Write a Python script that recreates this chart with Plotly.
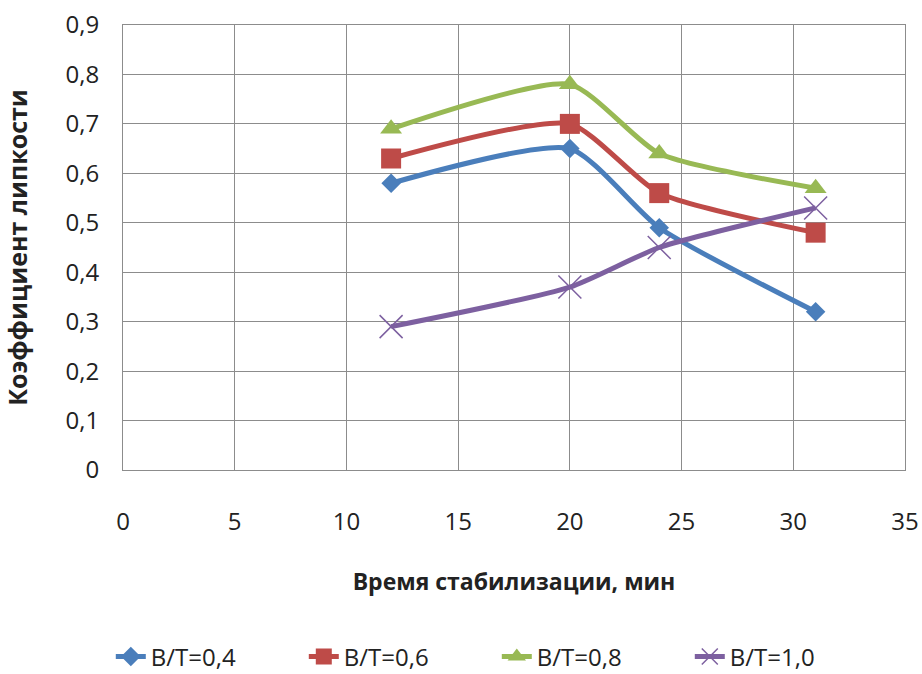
import plotly.graph_objects as go

x_vals = [12, 20, 24, 31]
s04 = [0.58, 0.65, 0.49, 0.32]
s06 = [0.63, 0.70, 0.56, 0.48]
s08 = [0.69, 0.78, 0.64, 0.57]
s10 = [0.29, 0.37, 0.45, 0.53]
names = ["B/T=0,4", "B/T=0,6", "B/T=0,8", "B/T=1,0"]
colors = ["#4A7EBB", "#BE4B48", "#98B954", "#7D60A0"]
symbols = ["diamond", "square", "triangle-up", "x-thin-open"]
sizes = [15, 20, 19, 23]
x_ticks = [0, 5, 10, 15, 20, 25, 30, 35]
y_ticks = [0, 0.1, 0.2, 0.3, 0.4, 0.5, 0.6, 0.7, 0.8, 0.9]
y_labels = ["0", "0,1", "0,2", "0,3", "0,4", "0,5", "0,6", "0,7", "0,8", "0,9"]

FONT = "Open Sans"

fig = go.Figure()
for name, ys, c, sym, sz in zip(names, [s04, s06, s08, s10], colors, symbols, sizes):
    fig.add_trace(go.Scatter(
        x=x_vals, y=ys, name=name, mode="lines+markers",
        line=dict(color=c, width=5, shape="spline", smoothing=0.6),
        marker=dict(symbol=sym, size=sz, color=c,
                    line=dict(width=1.5 if sym == "x-thin-open" else 0, color=c)),
    ))

grid = "#8C8C8C"
fig.update_layout(
    width=922, height=674,
    margin=dict(l=123, r=17, t=25, b=204, autoexpand=False),
    plot_bgcolor="white", paper_bgcolor="white",
    font=dict(family=FONT, color="#222222"),
    showlegend=True,
    legend=dict(orientation="h", x=0.478, xanchor="center", y=-0.42, yanchor="middle",
                font=dict(size=24, family=FONT), entrywidth=148, entrywidthmode="pixels",
                tracegroupgap=0),
    xaxis=dict(range=[0, 35], tickvals=x_ticks, showgrid=True, gridcolor=grid, gridwidth=1,
               zeroline=False, showline=True, linecolor=grid, mirror=True, automargin=False,
               ticks="", tickfont=dict(size=24), ticklabelstandoff=30,
               title=dict(text="<b>Время стабилизации, мин</b>", font=dict(size=23), standoff=38)),
    yaxis=dict(range=[0, 0.9], tickvals=y_ticks, ticktext=y_labels, showgrid=True,
               gridcolor=grid, gridwidth=1, zeroline=False, showline=True, linecolor=grid,
               mirror=True, ticks="", tickfont=dict(size=24), ticklabelstandoff=18, automargin=False,
               title=dict(text="<b>Коэффициент липкости</b>", font=dict(size=25), standoff=40)),
)
fig.write_html("out.html", config={"displayModeBar": False},
               post_script="document.body.style.margin='0';document.body.style.overflow='hidden';")
